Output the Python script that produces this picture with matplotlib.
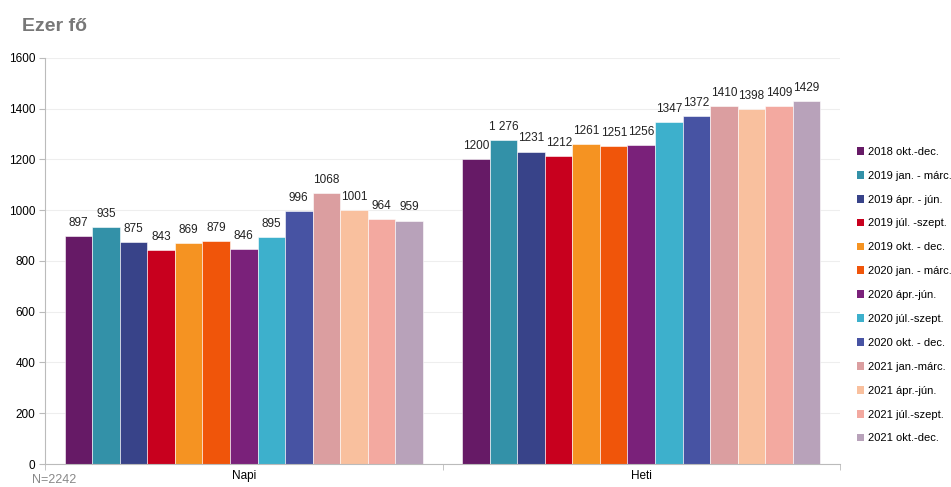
import matplotlib
matplotlib.use('Agg')
import matplotlib.pyplot as plt
from matplotlib.patches import Patch
import numpy as np

plt.rcParams['font.family'] = ['Liberation Sans', 'DejaVu Sans']

categories = ["Napi", "Heti"]
series = ["2018 okt.-dec.", "2019 jan. - márc.", "2019 ápr. - jún.", "2019 júl. -szept.",
          "2019 okt. - dec.", "2020 jan. - márc.", "2020 ápr.-jún.", "2020 júl.-szept.",
          "2020 okt. - dec.", "2021 jan.-márc.", "2021 ápr.-jún.", "2021 júl.-szept.",
          "2021 okt.-dec."]
napi = [897, 935, 875, 843, 869, 879, 846, 895, 996, 1068, 1001, 964, 959]
heti = [1200, 1276, 1231, 1212, 1261, 1251, 1256, 1347, 1372, 1410, 1398, 1409, 1429]
heti_labels = ["1200", "1 276", "1231", "1212", "1261", "1251", "1256", "1347", "1372",
               "1410", "1398", "1409", "1429"]
colors = ["#661a66", "#3391a8", "#384389", "#c8001e", "#f59322", "#f0550a", "#7a217a",
          "#3db0cc", "#4753a3", "#db9ea0", "#f9c09e", "#f3a9a0", "#b8a2ba"]

fig = plt.figure(figsize=(9.51, 4.87), dpi=100)
ax = fig.add_axes([0.0473, 0.0472, 0.836, 0.834])

n = len(series)
group_w = 0.9
bw = group_w / n
x = np.arange(len(categories))
values = [napi, heti]
labels = [[str(v) for v in napi], heti_labels]

for i in range(n):
    pos = x - group_w / 2 + bw * (i + 0.5)
    vals = [values[0][i], values[1][i]]
    ax.bar(pos, vals, width=bw, color=colors[i], edgecolor='white', linewidth=0.4)
    for p, v, lab in zip(pos, vals, [labels[0][i], labels[1][i]]):
        ax.text(p, v + 28, lab, ha='center', va='bottom', fontsize=8.5, color='#222222')

ax.set_xlim(-0.5, 1.5)
ax.set_ylim(0, 1600)
ax.set_yticks(range(0, 1601, 200))
ax.set_xticks(x)
ax.set_xticklabels(categories, fontsize=8.5)
ax.set_xticks([-0.5, 0.5, 1.5], minor=True)
ax.tick_params(axis='x', which='major', length=0, pad=4)
ax.tick_params(axis='x', which='minor', length=4, color='#bbbbbb')
ax.tick_params(axis='y', length=4, color='#bbbbbb', labelsize=8.5, pad=3)
ax.yaxis.grid(True, color='#eeeeee', linewidth=0.8)
ax.set_axisbelow(True)
for s in ['top', 'right']:
    ax.spines[s].set_visible(False)
ax.spines['left'].set_color('#bbbbbb')
ax.spines['bottom'].set_color('#bbbbbb')

handles = [Patch(facecolor=c, edgecolor='none') for c in colors]
fig.legend(handles, series, loc='center left', bbox_to_anchor=(0.896, 0.394),
           frameon=False, fontsize=8, handlelength=0.7, handleheight=0.7,
           handletextpad=0.3, labelspacing=1.25, borderaxespad=0)

fig.text(0.023, 0.945, "Ezer fő", fontsize=14, fontweight='bold', color='#777777',
         ha='left', va='center')
fig.text(0.034, 0.002, "N=2242", fontsize=9, color='#888888', ha='left', va='bottom')

fig.savefig("out.png", dpi=100)
